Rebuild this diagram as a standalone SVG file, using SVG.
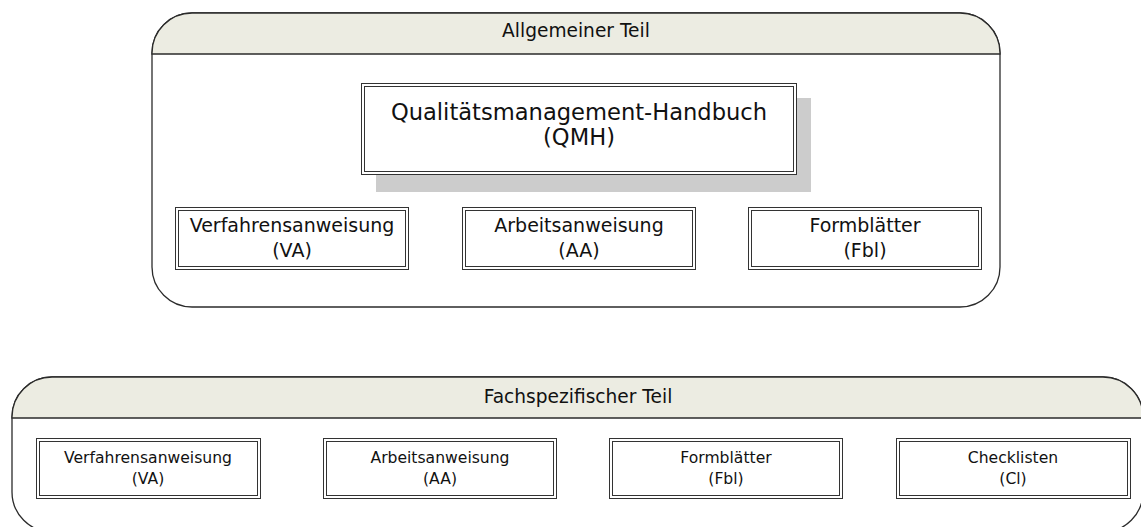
<svg xmlns="http://www.w3.org/2000/svg" width="1141" height="527" viewBox="0 0 1141 527">
<style>
  .cont { fill: #ffffff; stroke: #2b2b2b; stroke-width: 1.3; }
  .head { fill: #ECECE2; stroke: #2b2b2b; stroke-width: 1.3; }
  .outer { fill: #ffffff; stroke: #333333; stroke-width: 1; }
  .inner { fill: none; stroke: #333333; stroke-width: 1; }
  .shadow { fill: #CCCCCC; }
  text { font-family: "DejaVu Sans", Verdana, sans-serif; fill: #111111; text-anchor: middle; }
  .title { font-size: 18.6px; }
  .big { font-size: 22.6px; }
  .mid { font-size: 19px; }
  .small { font-size: 15.6px; }
</style>
<rect width="1141" height="527" fill="#ffffff"/>

<g id="allgemeiner-teil">
  <rect class="cont" x="152" y="13" width="848" height="294" rx="40" ry="40"/>
  <path class="head" d="M152,54 V53 A40,40 0 0 1 192,13 H960 A40,40 0 0 1 1000,53 V54 Z"/>
  <text class="title" x="576" y="37">Allgemeiner Teil</text>
</g>

<g id="qmh">
  <rect class="shadow" x="376" y="98" width="435" height="94"/>
  <rect class="outer" x="361.5" y="83.5" width="435" height="91"/>
  <rect class="inner" x="364.5" y="86.5" width="429" height="85"/>
  <text class="big" x="579" y="120">Qualitätsmanagement-Handbuch</text>
  <text class="big" x="579" y="145">(QMH)</text>
</g>

<g id="va-top">
  <rect class="outer" x="175.5" y="207.5" width="233" height="62"/>
  <rect class="inner" x="178.5" y="210.5" width="227" height="56"/>
  <text class="mid" x="292" y="232">Verfahrensanweisung</text>
  <text class="mid" x="292" y="257">(VA)</text>
</g>

<g id="aa-top">
  <rect class="outer" x="462.5" y="207.5" width="233" height="62"/>
  <rect class="inner" x="465.5" y="210.5" width="227" height="56"/>
  <text class="mid" x="579" y="232">Arbeitsanweisung</text>
  <text class="mid" x="579" y="257">(AA)</text>
</g>

<g id="fbl-top">
  <rect class="outer" x="748.5" y="207.5" width="233" height="62"/>
  <rect class="inner" x="751.5" y="210.5" width="227" height="56"/>
  <text class="mid" x="865" y="232">Formblätter</text>
  <text class="mid" x="865" y="257">(Fbl)</text>
</g>

<g id="fachspezifischer-teil">
  <rect class="cont" x="12" y="377" width="1131" height="155" rx="40" ry="40"/>
  <path class="head" d="M12,418 V417 A40,40 0 0 1 52,377 H1103 A40,40 0 0 1 1143,417 V418 Z"/>
  <text class="title" x="578" y="403">Fachspezifischer Teil</text>
</g>

<g id="va-bottom">
  <rect class="outer" x="36.5" y="438.5" width="224" height="60"/>
  <rect class="inner" x="39.5" y="441.5" width="218" height="54"/>
  <text class="small" x="148" y="463">Verfahrensanweisung</text>
  <text class="small" x="148" y="484">(VA)</text>
</g>

<g id="aa-bottom">
  <rect class="outer" x="323.5" y="438.5" width="233" height="60"/>
  <rect class="inner" x="326.5" y="441.5" width="227" height="54"/>
  <text class="small" x="440" y="463">Arbeitsanweisung</text>
  <text class="small" x="440" y="484">(AA)</text>
</g>

<g id="fbl-bottom">
  <rect class="outer" x="609.5" y="438.5" width="233" height="60"/>
  <rect class="inner" x="612.5" y="441.5" width="227" height="54"/>
  <text class="small" x="726" y="463">Formblätter</text>
  <text class="small" x="726" y="484">(Fbl)</text>
</g>

<g id="cl-bottom">
  <rect class="outer" x="896.5" y="438.5" width="234" height="60"/>
  <rect class="inner" x="899.5" y="441.5" width="228" height="54"/>
  <text class="small" x="1013" y="463">Checklisten</text>
  <text class="small" x="1013" y="484">(Cl)</text>
</g>

<g id="connectors"></g>
</svg>
